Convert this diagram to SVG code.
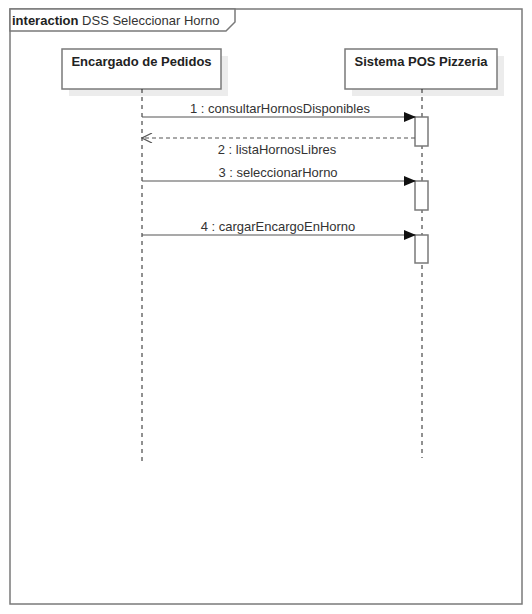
<svg xmlns="http://www.w3.org/2000/svg" width="532" height="614" viewBox="0 0 532 614">
<style>
text{font-family:"Liberation Sans",Arial,sans-serif;font-size:13px;fill:#333}
.b{font-weight:bold;fill:#222}
.frame{fill:#fff;stroke:#7a7a7a;stroke-width:1.5}
.actor{fill:#fff;stroke:#7a7a7a;stroke-width:1.5}
.shadow{fill:#ececec}
.life{stroke:#222;stroke-width:1;stroke-dasharray:4,4;fill:none}
.act{fill:#fff;stroke:#7a7a7a;stroke-width:1.5}
.msg{stroke:#555;stroke-width:1.2;fill:none}
.ret{stroke:#555;stroke-width:1.2;fill:none;stroke-dasharray:4,3}
</style>
<defs>
<marker id="filled" markerWidth="12" markerHeight="10" refX="11" refY="5" orient="auto" markerUnits="userSpaceOnUse">
<path d="M0,0 L12,5 L0,10 Z" fill="#111"/>
</marker>
<marker id="open" markerWidth="12" markerHeight="10" refX="11" refY="5" orient="auto" markerUnits="userSpaceOnUse">
<path d="M1,0 L11,5 L1,10" fill="none" stroke="#555" stroke-width="1.2"/>
</marker>
</defs>
<g id="frame">
<rect class="frame" x="10" y="9" width="512" height="595"/>
<path class="frame" d="M10,9 L235,9 L235,22 L226,31 L10,31 Z"/>
<text x="12" y="25"><tspan class="b">interaction</tspan> DSS Seleccionar Horno</text>
</g>
<g id="encargado">
<rect class="shadow" x="69" y="56" width="159" height="40"/>
<rect class="actor" x="62" y="49" width="159" height="40"/>
<text class="b" x="141.5" y="66" text-anchor="middle">Encargado de Pedidos</text>
<line class="life" x1="142" y1="89" x2="142" y2="464"/>
</g>
<g id="sistema">
<rect class="shadow" x="352" y="56" width="152" height="40"/>
<rect class="actor" x="345" y="49" width="152" height="40"/>
<text class="b" x="421" y="66" text-anchor="middle">Sistema POS Pizzeria</text>
<line class="life" x1="422" y1="89" x2="422" y2="458"/>
<rect class="act" x="415" y="117" width="13" height="29"/>
<rect class="act" x="415" y="181" width="13" height="29"/>
<rect class="act" x="415" y="235" width="13" height="28"/>
</g>
<g id="connectors">
<line class="msg" x1="142" y1="117" x2="415" y2="117" marker-end="url(#filled)"/>
<text x="280" y="113" text-anchor="middle">1 : consultarHornosDisponibles</text>
<line class="ret" x1="415" y1="138" x2="142" y2="138" marker-end="url(#open)"/>
<text x="277" y="154" text-anchor="middle">2 : listaHornosLibres</text>
<line class="msg" x1="142" y1="181" x2="415" y2="181" marker-end="url(#filled)"/>
<text x="278" y="177" text-anchor="middle">3 : seleccionarHorno</text>
<line class="msg" x1="142" y1="235" x2="415" y2="235" marker-end="url(#filled)"/>
<text x="278" y="231" text-anchor="middle">4 : cargarEncargoEnHorno</text>
</g>
</svg>
